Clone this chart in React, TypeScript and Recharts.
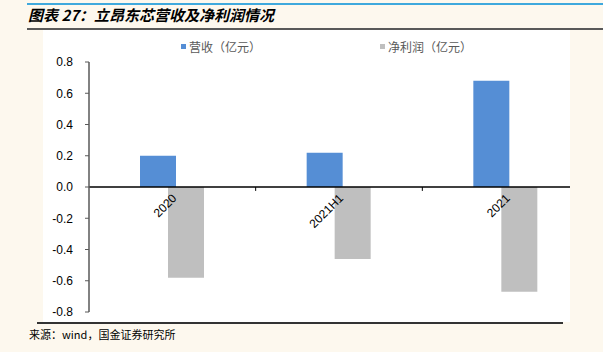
import React from 'react';
import { BarChart, Bar, XAxis, YAxis, ReferenceLine, ReferenceDot } from 'recharts';

const categories = ['2020', '2021H1', '2021'];
const revenue = [0.2, 0.22, 0.68];
const netProfit = [-0.58, -0.46, -0.67];
const yTicks = [-0.8, -0.6, -0.4, -0.2, 0, 0.2, 0.4, 0.6, 0.8];
const boundaryTicks = [1, 2, 3];

const data = categories.map((name, i) => ({
  idx: i + 0.5,
  name,
  revenue: revenue[i],
  netProfit: netProfit[i],
}));

const BLUE = '#558ED5';
const GRAY = '#BFBFBF';
const CREAM = '#FDF8EE';

const CategoryLabel = (props: any) => {
  const { cx, cy, label } = props;
  const x = cx + 5;
  const y = cy + 12;
  return (
    <text
      x={x}
      y={y}
      transform={`rotate(-45 ${x} ${y})`}
      textAnchor="end"
      fontSize={12}
      fontFamily="Liberation Sans, Arial, sans-serif"
      fill="#000"
    >
      {label}
    </text>
  );
};

export default function App() {
  return (
    <div
      style={{
        position: 'absolute',
        left: 0,
        top: 0,
        width: 603,
        height: 352,
        background: CREAM,
        overflow: 'hidden',
        fontFamily: '"Noto Sans CJK SC", sans-serif',
      }}
    >
      {/* header lines and title */}
      <div style={{ position: 'absolute', left: 27, top: 3, width: 576, height: 2, background: '#3FA9DD' }} />
      <div
        style={{
          position: 'absolute',
          left: 28,
          top: 4,
          fontSize: 15,
          fontWeight: 'bold',
          fontStyle: 'italic',
          color: '#000',
          whiteSpace: 'nowrap',
          lineHeight: '22px',
        }}
      >
        图表 27：立昂东芯营收及净利润情况
      </div>
      <div style={{ position: 'absolute', left: 27, top: 28, width: 576, height: 2, background: '#595959' }} />

      {/* white chart area */}
      <div
        style={{
          position: 'absolute',
          left: 43,
          top: 30,
          width: 527,
          height: 292,
          background: '#fff',
          overflow: 'hidden',
        }}
      >
        <BarChart
          width={560}
          height={292}
          data={data}
          margin={{ top: 32, right: 14, bottom: 10, left: 0 }}
          barGap={-8}
        >
          <XAxis dataKey="name" xAxisId="cat" hide />
          <XAxis xAxisId="num" type="number" dataKey="idx" domain={[0, 3]} hide />
          <YAxis
            domain={[-0.8, 0.8]}
            ticks={yTicks}
            width={46}
            tickSize={4}
            tickMargin={12}
            axisLine={{ stroke: '#595959', strokeWidth: 1.5 }}
            tickLine={{ stroke: '#595959' }}
            tick={{ fill: '#000', fontSize: 12, fontFamily: 'Liberation Sans, Arial, sans-serif' }}
            tickFormatter={(v: number) => v.toFixed(1)}
            interval={0}
          />
          <Bar dataKey="revenue" xAxisId="cat" fill={BLUE} barSize={36} isAnimationActive={false} />
          <Bar dataKey="netProfit" xAxisId="cat" fill={GRAY} barSize={36} isAnimationActive={false} />
          <ReferenceLine y={0} xAxisId="cat" stroke="#000" strokeWidth={1.5} />
          {boundaryTicks.map((b) => (
            <ReferenceLine
              key={b}
              xAxisId="num"
              segment={[
                { x: b, y: 0 },
                { x: b, y: -0.025 },
              ]}
              stroke="#000"
            />
          ))}
          {categories.map((c) => (
            <ReferenceDot
              key={c}
              xAxisId="cat"
              x={c}
              y={0}
              r={0}
              shape={(p: any) => <CategoryLabel {...p} label={c} />}
            />
          ))}
        </BarChart>
      </div>

      {/* legend */}
      <div style={{ position: 'absolute', left: 181, top: 44, width: 5, height: 5, background: BLUE }} />
      <div style={{ position: 'absolute', left: 189, top: 38, fontSize: 12, color: '#595959', lineHeight: '18px', whiteSpace: 'nowrap' }}>
        营收（亿元）
      </div>
      <div style={{ position: 'absolute', left: 380, top: 44, width: 5, height: 5, background: GRAY }} />
      <div style={{ position: 'absolute', left: 388, top: 38, fontSize: 12, color: '#595959', lineHeight: '18px', whiteSpace: 'nowrap' }}>
        净利润（亿元）
      </div>

      {/* bottom line and source */}
      <div style={{ position: 'absolute', left: 37, top: 322, width: 526, height: 2, background: '#333' }} />
      <div style={{ position: 'absolute', left: 29, top: 326, fontSize: 11, color: '#000', lineHeight: '16px', whiteSpace: 'nowrap' }}>
        来源：wind，国金证券研究所
      </div>
    </div>
  );
}
